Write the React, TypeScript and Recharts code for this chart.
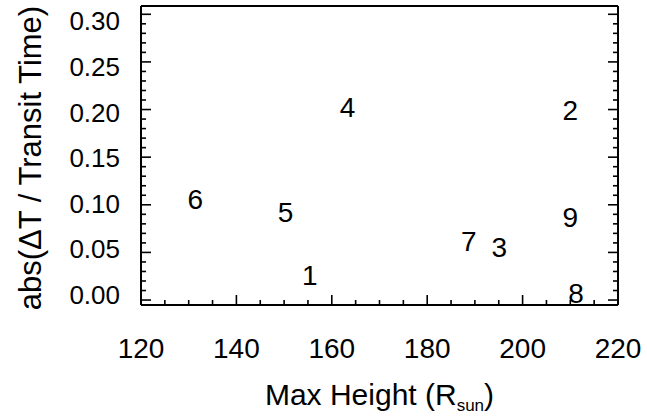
import React from 'react';
import { ScatterChart, Scatter, XAxis, YAxis } from 'recharts';

// event number, peak height (R_sun), |dT / transit time|
const eventIds = ['1', '2', '3', '4', '5', '6', '7', '8', '9'];
const maxHeight = [155.4, 210.0, 195.1, 163.3, 150.3, 131.4, 188.7, 211.2, 210.0];
const dtRatio = [0.026, 0.199, 0.056, 0.203, 0.092, 0.106, 0.062, 0.007, 0.087];

const xMajor = [120, 140, 160, 180, 200, 220];
const yMajor = [0, 0.05, 0.1, 0.15, 0.2, 0.25, 0.3];
const xStep = 5;
const yStep = 0.01;

const FONT = '"Liberation Sans", Arial, Helvetica, sans-serif';
const W = 647;
const H = 417;

const points = eventIds.map((id, i) => ({ id, x: maxHeight[i], y: dtRatio[i] }));

// all tick positions (major + minor) between first and last major
const fill = (major: number[], step: number) => {
  const out: number[] = [];
  const n = Math.round((major[major.length - 1] - major[0]) / step);
  for (let k = 0; k <= n; k++) out.push(+(major[0] + k * step).toFixed(4));
  return out;
};
const xTicks = fill(xMajor, xStep);
const yTicks = fill(yMajor, yStep);

const isMajorX = (v: number) => xMajor.some(m => Math.abs(m - v) < 1e-6);
const isMajorY = (v: number) => yMajor.some(m => Math.abs(m - v) < 1e-6);

const MAJOR = 10;
const MINOR = 5;

const BottomTick = (props: any) => {
  const { x, y, payload } = props;
  const major = isMajorX(payload.value);
  return (
    <g>
      <line x1={x} x2={x} y1={y} y2={y - (major ? MAJOR : MINOR)} stroke="#000" strokeWidth={1.6} />
      {major && (
        <text x={x} y={y + 53} textAnchor="middle" fontSize={28} fontFamily={FONT} fill="#000">
          {payload.value}
        </text>
      )}
    </g>
  );
};

const TopTick = (props: any) => {
  const { x, y, payload } = props;
  const major = isMajorX(payload.value);
  return <line x1={x} x2={x} y1={y} y2={y + (major ? MAJOR : MINOR)} stroke="#000" strokeWidth={1.6} />;
};

// y labels sit slightly pulled toward the middle of the axis
const LeftTick = (props: any) => {
  const { x, y, payload } = props;
  const major = isMajorY(payload.value);
  const ly = 158 + (y - 157) * 0.958;
  return (
    <g>
      <line x1={x} x2={x + (major ? MAJOR : MINOR)} y1={y} y2={y} stroke="#000" strokeWidth={1.6} />
      {major && (
        <text x={x - 21} y={ly + 9} textAnchor="end" fontSize={26} fontFamily={FONT} fill="#000">
          {payload.value.toFixed(2)}
        </text>
      )}
    </g>
  );
};

const RightTick = (props: any) => {
  const { x, y, payload } = props;
  const major = isMajorY(payload.value);
  return <line x1={x} x2={x - (major ? MAJOR : MINOR)} y1={y} y2={y} stroke="#000" strokeWidth={1.6} />;
};

// events are plotted as their number instead of a symbol
const EventLabel = (props: any) => {
  const { cx, cy, payload } = props;
  return (
    <text x={cx} y={cy + 10} textAnchor="middle" fontSize={28} fontFamily={FONT} fill="#000">
      {payload.id}
    </text>
  );
};

const frame = { stroke: '#000', strokeWidth: 2 };

export default function App() {
  return (
    <div style={{ position: 'absolute', left: 0, top: 0, width: W, height: H, background: '#fff' }}>
      <ScatterChart width={W} height={H} margin={{ top: 5, right: 28, bottom: 0, left: 0 }}>
        <XAxis
          xAxisId="bottom"
          type="number"
          dataKey="x"
          domain={[120, 220]}
          ticks={xTicks}
          interval={0}
          tickSize={0}
          tickMargin={0}
          axisLine={frame}
          tick={<BottomTick />}
          height={112}
          allowDataOverflow
          label={{
            content: () => (
              <text x={379.5} y={405} textAnchor="middle" fontSize={30} fontFamily={FONT} fill="#000">
                Max Height (R
                <tspan fontSize={17} dy={6}>sun</tspan>
                <tspan dy={-6}>)</tspan>
              </text>
            ),
          }}
        />
        <XAxis
          xAxisId="top"
          orientation="top"
          type="number"
          domain={[120, 220]}
          ticks={xTicks}
          interval={0}
          tickSize={0}
          tickMargin={0}
          axisLine={frame}
          tick={<TopTick />}
          height={1}
          allowDataOverflow
        />
        <YAxis
          yAxisId="left"
          type="number"
          dataKey="y"
          domain={[-0.0052, 0.3087]}
          ticks={yTicks}
          interval={0}
          tickSize={0}
          tickMargin={0}
          axisLine={frame}
          tick={<LeftTick />}
          width={141}
          allowDataOverflow
          label={{
            content: () => (
              <text
                x={30}
                y={158}
                transform="rotate(-90, 30, 158)"
                textAnchor="middle"
                dominantBaseline="central"
                fontSize={31}
                fontFamily={FONT}
                fill="#000"
              >
                abs(ΔT / Transit Time)
              </text>
            ),
          }}
        />
        <YAxis
          yAxisId="right"
          orientation="right"
          type="number"
          domain={[-0.0052, 0.3087]}
          ticks={yTicks}
          interval={0}
          tickSize={0}
          tickMargin={0}
          axisLine={frame}
          tick={<RightTick />}
          width={1}
          allowDataOverflow
        />
        <Scatter
          xAxisId="bottom"
          yAxisId="left"
          data={points}
          shape={<EventLabel />}
          isAnimationActive={false}
        />
      </ScatterChart>
    </div>
  );
}
